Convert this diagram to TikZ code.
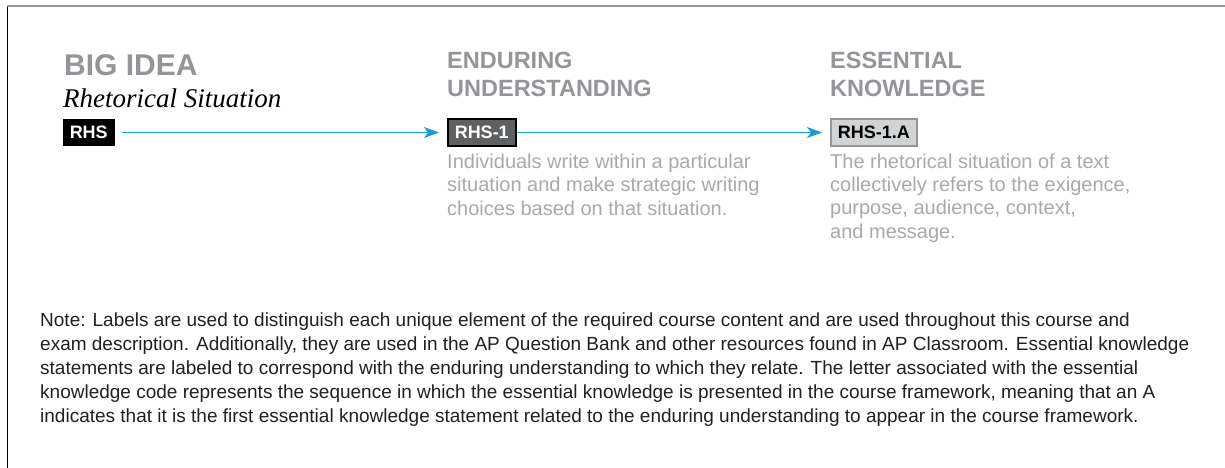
\documentclass[tikz,border=0pt]{standalone}
\usepackage{fontspec}
\setmainfont{Liberation Sans}
\newfontfamily\slabit{Liberation Serif}
\usetikzlibrary{positioning,arrows.meta}
\definecolor{headgray}{HTML}{939598}
\definecolor{descgray}{HTML}{A7A9AC}
\definecolor{flowblue}{HTML}{1A9AD7}
\definecolor{notetext}{HTML}{231F20}
\definecolor{badgedark}{HTML}{5F6062}
\definecolor{badgelight}{HTML}{D1D3D4}
\tikzset{
  heading/.style={
    anchor=base west,
    inner sep=0pt,
    text=headgray,
    align=left,
    font=\bfseries\fontsize{23.5}{28}\selectfont,
  },
  desc/.style={
    anchor=base west,
    inner sep=0pt,
    text=descgray,
    align=left,
    font=\fontsize{20}{23.3}\selectfont,
  },
  badge/.style={
    anchor=west,
    minimum height=27pt,
    inner xsep=7pt,
    inner ysep=0pt,
    font=\bfseries\fontsize{18}{20}\selectfont,
    line width=1.5pt,
  },
  ideabadge/.style={badge, fill=black, text=white},
  eubadge/.style={badge, draw=black, fill=badgedark, text=white},
  ekbadge/.style={badge, draw=headgray, fill=badgelight, text=black},
  flow/.style={
    draw=flowblue,
    line width=1.4pt,
    -{Stealth[length=15pt,width=11pt,inset=4pt]},
  },
}
\begin{document}
\begin{tikzpicture}[x=1pt,y=-1pt]
  \useasboundingbox (0,0) rectangle (1225,468);
  % frame
  \draw[black, line width=1pt] (7,468) -- (7,6);
  \draw[headgray, line width=1.5pt] (7,6) -- (1225,6);

  % big idea
  \node[heading, font=\bfseries\fontsize{30}{34}\selectfont] (bigidea) at (64,76) {BIG IDEA};
  \node[anchor=base west, inner sep=0pt, font=\slabit\itshape\fontsize{27}{30}\selectfont]
    (ideaname) at (63,108) {Rhetorical Situation};
  \node[ideabadge] (rhs) at (62,132.5) {RHS};

  % enduring understanding (base = last line)
  \node[heading] (euhead) at (447,97) {ENDURING\\UNDERSTANDING};
  \node[eubadge] (rhs1) at (447,132.5) {RHS-1};
  \node[desc] (eudesc) at (447,215) {Individuals write within a particular\\
    situation and make strategic writing\\choices based on that situation.};

  % essential knowledge
  \node[heading] (ekhead) at (830,97) {ESSENTIAL\\KNOWLEDGE};
  \node[ekbadge] (rhs1a) at (830,132.5) {RHS-1.A};
  \node[desc] (ekdesc) at (830,238) {The rhetorical situation of a text\\
    collectively refers to the exigence,\\purpose, audience, context,\\and message.};

  % connectors
  \draw[flow, shorten <=6pt, shorten >=8pt] (rhs.east) -- (rhs1.west);
  \draw[flow, shorten >=8pt] (rhs1.east) -- (rhs1a.west);

  % note
  \node[anchor=base west, inner sep=0pt, text=notetext, align=left,
    font=\fontsize{19}{24}\selectfont] (note) at (40,422)
    {Note: Labels are used to distinguish each unique element of the required course content and are used throughout this course and\\
     exam description. Additionally, they are used in the AP Question Bank and other resources found in AP Classroom. Essential knowledge\\
     statements are labeled to correspond with the enduring understanding to which they relate. The letter associated with the essential\\
     knowledge code represents the sequence in which the essential knowledge is presented in the course framework, meaning that an A\\
     indicates that it is the first essential knowledge statement related to the enduring understanding to appear in the course framework.};
\end{tikzpicture}
\end{document}
